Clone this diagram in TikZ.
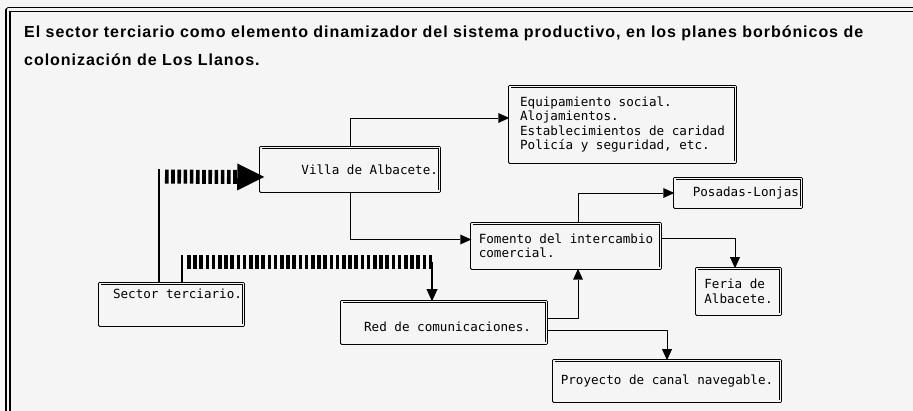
\documentclass[tikz,border=0pt]{standalone}
\usepackage{fontspec}
\usetikzlibrary{arrows.meta}
\newfontfamily\monofam{DejaVu Sans Mono}
\newfontfamily\titfam[LetterSpace=6]{Liberation Sans}
\definecolor{papel}{gray}{0.96}
\tikzset{
  caja/.style={draw,double=papel,line width=0.7pt,double distance=1.8pt,
    font=\monofam\fontsize{12.6}{14.5}\selectfont,align=left,inner xsep=0pt,inner ysep=0pt},
  enlace/.style={line width=0.8pt,-{Triangle[length=11pt,width=10pt,line width=0pt]}},
  tronco/.style={line width=2.8pt},
  trama/.style={line width=14pt,dash pattern=on 3.6pt off 2.6pt},
}
\begin{document}
\begin{tikzpicture}[x=1pt,y=-1pt,line join=bevel,]
%%
\useasboundingbox (0,0) rectangle (913,411);
\fill [papel] (0,0) rectangle (913,411);
\draw [line width=1.4pt,double=papel,double distance=2.4pt] (8,9.5) rectangle (925,425);
\node (titulo) at (24,26) [anchor=north west,inner sep=0pt,align=left,font=\titfam\bfseries\fontsize{16}{28}\selectfont] {El sector terciario como elemento dinamizador del sistema productivo, en los planes borbónicos de\\colonización de Los Llanos.};
  \node (equipamiento) at (622.5,124.5) [caja,minimum width=225.8pt,minimum height=75.8pt] {Equipamiento social.\\Alojamientos.\\Establecimientos de caridad\\Policía y seguridad, etc.};
  \node (villa) at (350,169.5) [caja,minimum width=178.8pt,minimum height=43.8pt,text width=176pt,align=flush right,inner xsep=1pt] {Villa de Albacete.};
  \node (posadas) at (738,193) [caja,minimum width=126.8pt,minimum height=28.8pt,text width=122pt,align=flush right,inner xsep=1pt] {Posadas-Lonjas};
  \node (fomento) at (566,246) [caja,minimum width=188.8pt,minimum height=44.8pt] {Fomento del intercambio\\comercial.};
  \node (feria) at (738.5,291.5) [caja,minimum width=83.8pt,minimum height=45.8pt] {Feria de\\Albacete.};
  \node (sector) at (171.5,304.5) [caja,minimum width=143.8pt,minimum height=41.8pt,text width=141pt,align=flush right,inner xsep=1pt,text depth=22pt] {Sector terciario.};
  \node (red) at (444,322.5) [caja,minimum width=204.8pt,minimum height=41.8pt,text width=174pt,align=flush right,inner xsep=1pt,text height=19pt] {Red de comunicaciones.};
  \node (canal) at (667,381) [caja,minimum width=226.8pt,minimum height=40.8pt] {Proyecto de canal navegable.};
  \draw [enlace] (villa.north) |- ([yshift=6.5pt]equipamiento.west);
  \draw [enlace] (villa.south) |- ([yshift=6.5pt]fomento.west);
  \draw [enlace] ([xshift=12pt]fomento.north) |- (posadas.west);
  \draw [enlace] ([yshift=8pt]fomento.east) -| ([xshift=-3.5pt]feria.north);
  \draw [enlace] ([yshift=4.5pt]red.east) -| ([xshift=12pt]fomento.south);
  \draw [enlace] ([yshift=-7.5pt]red.east) -| (canal.north);
%
  \draw [tronco] ([xshift=-12.5pt]sector.north) -- ++(0,-114.6) coordinate (h1);
  \draw [trama,-{Triangle[length=27pt,width=27pt,line width=0pt]}] ([xshift=6pt,yshift=-8pt]h1) -- ([xshift=4pt,yshift=-7.5pt]villa.west);
  \draw [tronco] ([xshift=10.5pt]sector.north) -- ++(0,-28.6) coordinate (h2);
  \draw [trama] ([xshift=5pt,yshift=-7pt]h2) -- ++(245,0) coordinate (h3);
  \draw [tronco,-{Triangle[length=12pt,width=11pt,line width=0pt]}] (h3) -- ([xshift=-12pt]red.north);
%
\end{tikzpicture}
\end{document}
